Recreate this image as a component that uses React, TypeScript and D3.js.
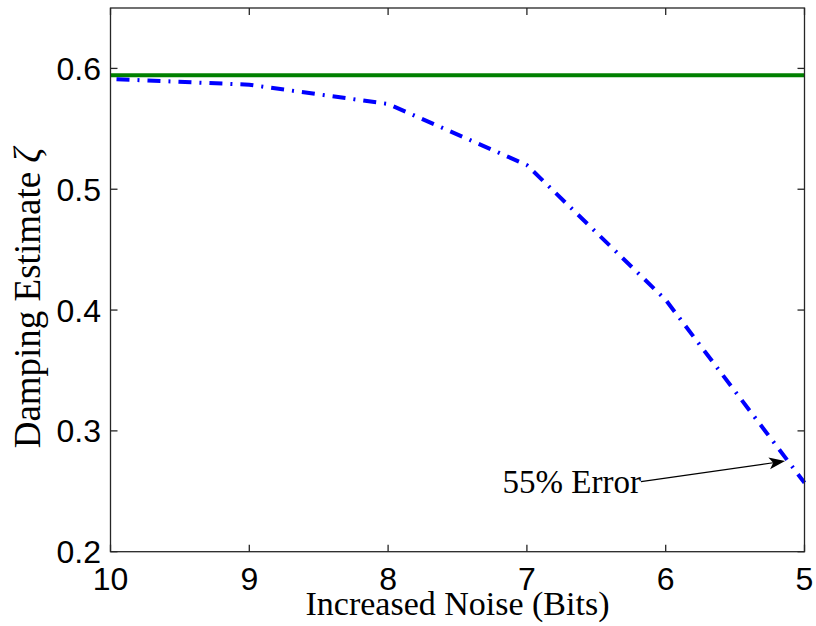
import React from 'react';
import * as d3 from 'd3';

const width = 816;
const height = 626;

const margin = { left: 110.5, top: 8, right: 11.5, bottom: 74.3 };

const bits = [10, 9, 8, 7, 6, 5];
const estimate = [0.5913, 0.5865, 0.5706, 0.52, 0.4084, 0.2570];
const trueDamping = [0.5944, 0.5944];
const trueBits = [10, 5];
const xTicks = [10, 9, 8, 7, 6, 5];
const yTicks = [0.2, 0.3, 0.4, 0.5, 0.6];

const annotation = { text: '55% Error', textX: 6.178, textY: 0.2485, arrowFrom: [6.178, 0.258], arrowTo: [5.14, 0.275] };

const x = d3.scaleLinear().domain([10, 5]).range([margin.left, width - margin.right]);
const y = d3.scaleLinear().domain([0.2, 0.65]).range([height - margin.bottom, margin.top]);

const estLine = d3.line<number>()
  .x((d, i) => x(bits[i]))
  .y(d => y(d));

const trueLine = d3.line<number>()
  .x((d, i) => x(trueBits[i]))
  .y(d => y(d));

const tickLen = 7;
const axisColor = '#262626';
const sans = '"Liberation Sans", Arial, sans-serif';
const serif = '"Liberation Serif", "Times New Roman", serif';

const App = () => {
  const [x0, x1] = x.range();
  const [y0, y1] = y.range();
  const ax0 = x(annotation.arrowFrom[0]);
  const ay0 = y(annotation.arrowFrom[1]);
  const ax1 = x(annotation.arrowTo[0]);
  const ay1 = y(annotation.arrowTo[1]);
  const ang = Math.atan2(ay1 - ay0, ax1 - ax0) * 180 / Math.PI;

  return (
    <svg width={width} height={height} style={{ position: 'absolute', left: 0, top: 0 }}>
      <rect width={width} height={height} fill="white" />

      {/* series */}
      <path d={trueLine(trueDamping) || ''} fill="none" stroke="#008000" strokeWidth={4} />
      <path
        d={estLine(estimate) || ''}
        fill="none"
        stroke="#0000ff"
        strokeWidth={4}
        strokeDasharray="13 8 2 8"
        strokeDashoffset={-6}
      />

      {/* box */}
      <rect x={x0} y={y1} width={x1 - x0} height={y0 - y1} fill="none" stroke={axisColor} strokeWidth={1.3} />

      {/* ticks */}
      {xTicks.map(t => (
        <g key={'x' + t}>
          <line x1={x(t)} x2={x(t)} y1={y0} y2={y0 - tickLen} stroke={axisColor} strokeWidth={1.3} />
          <line x1={x(t)} x2={x(t)} y1={y1} y2={y1 + tickLen} stroke={axisColor} strokeWidth={1.3} />
          <text x={x(t)} y={590} textAnchor="middle" fontFamily={sans} fontSize={32} fill="black">{t}</text>
        </g>
      ))}
      {yTicks.map(t => (
        <g key={'y' + t}>
          <line x1={x0} x2={x0 + tickLen} y1={y(t)} y2={y(t)} stroke={axisColor} strokeWidth={1.3} />
          <line x1={x1} x2={x1 - tickLen} y1={y(t)} y2={y(t)} stroke={axisColor} strokeWidth={1.3} />
          <text x={101} y={y(t) + 11.5} textAnchor="end" fontFamily={sans} fontSize={32} fill="black">{t.toFixed(1)}</text>
        </g>
      ))}

      {/* labels */}
      <text x={(x0 + x1) / 2} y={615} textAnchor="middle" fontFamily={serif} fontSize={34} fill="black">
        Increased Noise (Bits)
      </text>
      <text
        transform={`translate(40,298) rotate(-90)`}
        textAnchor="middle"
        fontFamily={serif}
        fontSize={37}
        fill="black"
      >
        Damping Estimate <tspan fontStyle="italic">ζ</tspan>
      </text>

      {/* annotation */}
      <text x={x(annotation.textX)} y={y(annotation.textY)} textAnchor="end" fontFamily={serif} fontSize={33} fill="black">
        {annotation.text}
      </text>
      <line x1={ax0} y1={ay0} x2={ax1 - 12 * Math.cos(ang * Math.PI / 180)} y2={ay1 - 12 * Math.sin(ang * Math.PI / 180)} stroke="black" strokeWidth={1.2} />
      <path
        d="M0,0 L-16,-6 L-12,0 L-16,6 Z"
        transform={`translate(${ax1},${ay1}) rotate(${ang})`}
        fill="black"
      />
    </svg>
  );
};

export default App;
